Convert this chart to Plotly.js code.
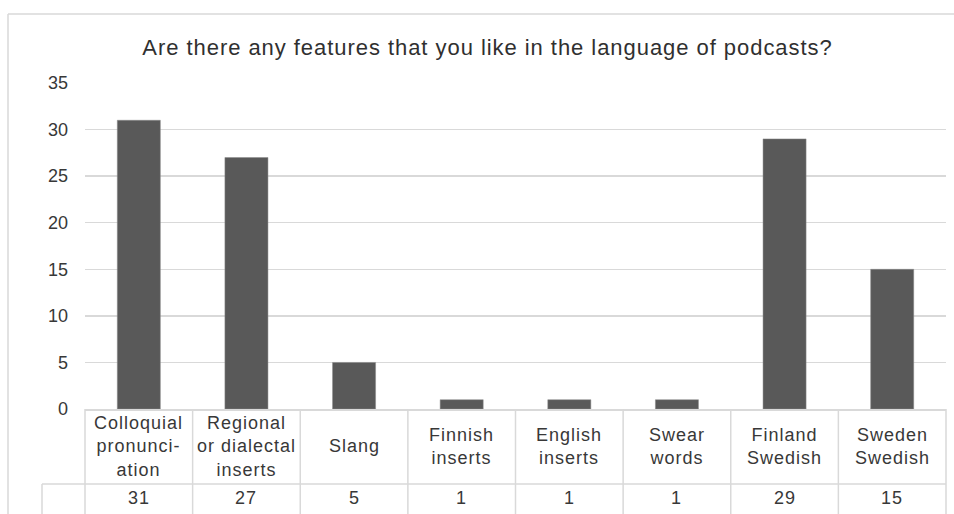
<!DOCTYPE html>
<html>
<head>
<meta charset="utf-8">
<script src="https://cdn.plot.ly/plotly-3.0.1.min.js"></script>
<style>
  html, body { margin: 0; padding: 0; background: #ffffff; }
  #chart { width: 954px; height: 514px; }
  .annotation-text { letter-spacing: 1px; }
  .gtitle { letter-spacing: 0.95px; }
</style>
</head>
<body>
<div id="chart"></div>
<script>
// ---- data ----
const chartTitle = "Are there any features that you like in the language of podcasts?";
const categories = ["Colloquial pronunciation", "Regional or dialectal inserts", "Slang", "Finnish inserts", "English inserts", "Swear words", "Finland Swedish", "Sweden Swedish"];
const tableLabels = ["Colloquial<br>pronunci-<br>ation", "Regional<br>or dialectal<br>inserts", "Slang", "Finnish<br>inserts", "English<br>inserts", "Swear<br>words", "Finland<br>Swedish", "Sweden<br>Swedish"];
const values = [31, 27, 5, 1, 1, 1, 29, 15];
const yTicks = [0, 5, 10, 15, 20, 25, 30, 35];

// ---- layout geometry (pixels) ----
const W = 954, H = 514;
const plotL = 85, plotR = 946, plotT = 83, plotB = 409;
const plotW = plotR - plotL, plotH = plotB - plotT;
const px2py = p => (plotB - p) / plotH;   // pixel y -> paper y
const px2px = p => (p - plotL) / plotW;   // pixel x -> paper x

const textColor = "#383838";
const gridColor = "#d9d9d9";
const fontFam = "Liberation Sans, Arial, sans-serif";

const trace = {
  type: "bar",
  x: categories,
  y: values,
  marker: { color: "#595959", line: { color: "#8a8a8a", width: 0.5 } },
  width: 0.4,
  hoverinfo: "x+y"
};

const shapes = [];
// outer chart border
shapes.push({ type: "line", xref: "paper", yref: "paper", x0: px2px(8), x1: px2px(W + 20), y0: px2py(14), y1: px2py(14), line: { color: gridColor, width: 1.5 } });
shapes.push({ type: "line", xref: "paper", yref: "paper", x0: px2px(8), x1: px2px(8), y0: px2py(14), y1: px2py(H + 20), line: { color: gridColor, width: 1.5 } });
// table vertical lines
const n = categories.length;
for (let i = 0; i <= n; i++) {
  shapes.push({ type: "line", xref: "paper", yref: "paper", x0: i / n, x1: i / n, y0: 0, y1: px2py(H + 20), line: { color: gridColor, width: 1.5 } });
}
// row separator and legend-key column
shapes.push({ type: "line", xref: "paper", yref: "paper", x0: px2px(42), x1: 1, y0: px2py(484), y1: px2py(484), line: { color: gridColor, width: 1.5 } });
shapes.push({ type: "line", xref: "paper", yref: "paper", x0: px2px(42), x1: px2px(42), y0: px2py(484), y1: px2py(H + 20), line: { color: gridColor, width: 1.5 } });

const annotations = [];
for (let i = 0; i < n; i++) {
  annotations.push({ xref: "x", yref: "paper", x: categories[i], y: px2py(446.5), text: tableLabels[i], showarrow: false, xanchor: "center", yanchor: "middle", align: "center", font: { family: fontFam, size: 18, color: textColor } });
  annotations.push({ xref: "x", yref: "paper", x: categories[i], y: px2py(498), text: String(values[i]), showarrow: false, xanchor: "center", yanchor: "middle", align: "center", font: { family: fontFam, size: 18, color: textColor } });
}

const layout = {
  width: W, height: H,
  margin: { l: plotL, r: W - plotR, t: plotT, b: H - plotB, pad: 0 },
  paper_bgcolor: "#ffffff", plot_bgcolor: "#ffffff",
  showlegend: false,
  title: { text: chartTitle, x: 0.511, xanchor: "center", xref: "container", y: 1 - 47 / H, yanchor: "middle", yref: "container", font: { family: fontFam, size: 22, color: "#303030" } },
  xaxis: { type: "category", range: [-0.5, n - 0.5], showticklabels: false, ticks: "", showgrid: false, showline: true, linecolor: gridColor, linewidth: 1.5, zeroline: false, fixedrange: true },
  yaxis: { range: [0, 35], tickvals: yTicks, ticktext: yTicks.map(String), showgrid: true, gridcolor: gridColor, gridwidth: 1.5, zeroline: false, showline: false, ticks: "", ticklabelstandoff: 16, tickfont: { family: fontFam, size: 18, color: textColor }, fixedrange: true },
  shapes: shapes,
  annotations: annotations
};

Plotly.newPlot("chart", [trace], layout, { displayModeBar: false, staticPlot: true });
</script>
</body>
</html>
